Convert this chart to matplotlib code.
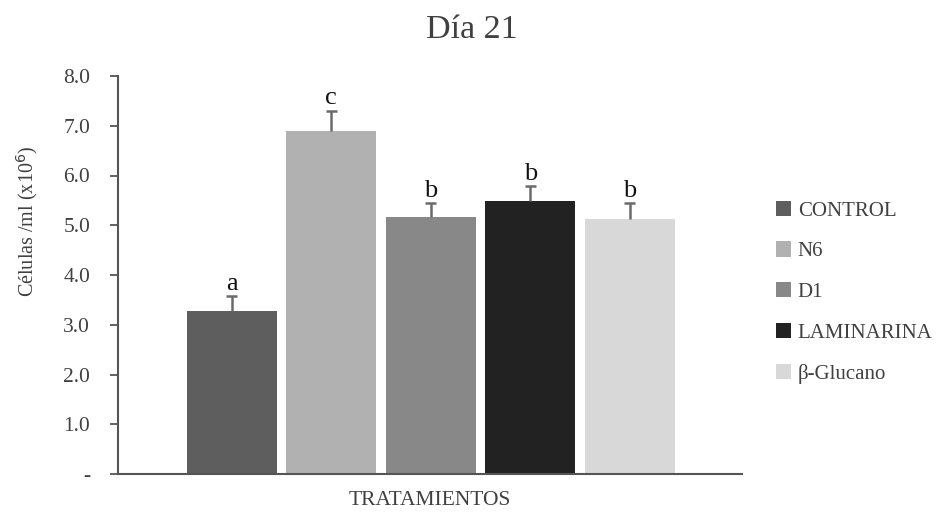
import matplotlib
matplotlib.use("Agg")
import matplotlib.pyplot as plt
from matplotlib.patches import Patch

categories = ["CONTROL", "N6", "D1", "LAMINARINA", "β-Glucano"]
values = [3.27, 6.90, 5.17, 5.48, 5.12]
errors = [0.30, 0.40, 0.27, 0.30, 0.32]
letters = ["a", "c", "b", "b", "b"]
colors = ["#5e5e5e", "#b1b1b1", "#888888", "#222222", "#d8d8d8"]
yticks = [0, 1, 2, 3, 4, 5, 6, 7, 8]
ytick_labels = ["-", "1.0", "2.0", "3.0", "4.0", "5.0", "6.0", "7.0", "8.0"]

plt.rcParams['font.family'] = ['Liberation Serif', 'DejaVu Serif']
txt = "#404040"

fig = plt.figure(figsize=(9.38, 5.12), dpi=100)
ax = fig.add_axes([118/938, 1-474/512, (742-118)/938, (474-76)/512])

x = list(range(len(categories)))
ax.bar(x, values, width=0.905, color=colors, edgecolor="none", zorder=2)
tops = [v + e for v, e in zip(values, errors)]
ax.vlines(x, values, tops, colors="#6a6a6a", linewidth=1.8, zorder=3)
ax.hlines(tops, [xi - 0.055 for xi in x], [xi + 0.055 for xi in x],
          colors="#6a6a6a", linewidth=1.8, zorder=3)
for xi, t, l in zip(x, tops, letters):
    ax.text(xi, t + 0.03, l, ha="center", va="bottom", fontsize=19, color="#111111")

ax.set_xlim(-1.145, 5.13)
ax.set_ylim(0, 8)
ax.set_yticks(yticks)
ax.set_yticklabels(ytick_labels, fontsize=15.5, color=txt)
ax.set_xticks([])
for s in ["top", "right"]:
    ax.spines[s].set_visible(False)
for s in ["left", "bottom"]:
    ax.spines[s].set_color("#555555")
    ax.spines[s].set_linewidth(1.5)
ax.tick_params(axis="y", length=6, width=1.3, color="#555555", pad=14)

ax.set_ylabel("Células /ml (x10$^6$)", fontsize=14.5, color=txt)
ax.yaxis.set_label_coords((40 - 118) / 624, (474 - 221) / 398)
ax.set_xlabel("TRATAMIENTOS", fontsize=15.5, color=txt, labelpad=12)
fig.text(472/938, 1-30/512, "Día 21", ha="center", va="center", fontsize=24.5, color=txt)

handles = [Patch(facecolor=c, edgecolor="none") for c in colors]
leg = fig.legend(handles, categories, loc="upper left", bbox_to_anchor=(757/938, 1-182/512),
                 frameon=False, fontsize=15, handlelength=0.75, handleheight=0.75,
                 handletextpad=0.3, labelspacing=1.0, labelcolor=txt)

fig.savefig("out.png", dpi=100)
